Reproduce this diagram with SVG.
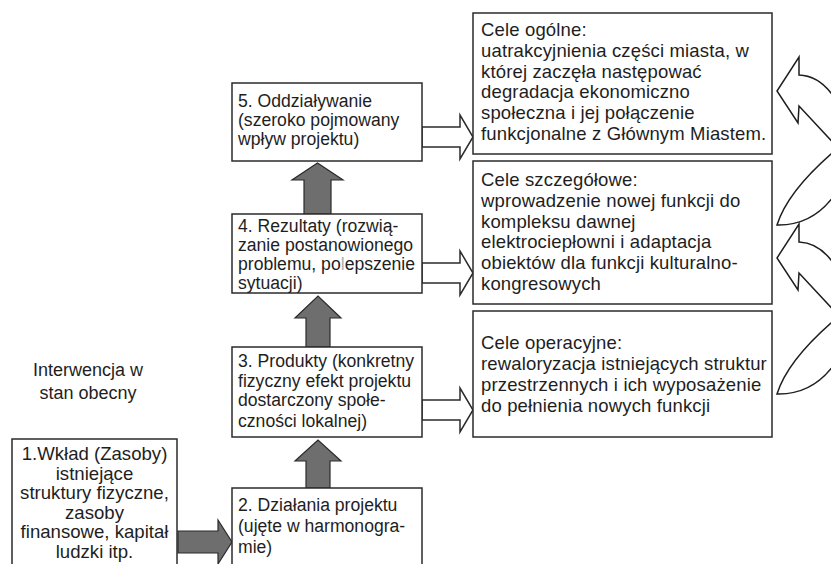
<svg xmlns="http://www.w3.org/2000/svg" width="831" height="564" viewBox="0 0 831 564">
<style>
.box{fill:#fff;stroke:#2b2b2b;stroke-width:1.5}
.t{font-family:"Liberation Sans",Arial,sans-serif;font-size:17.6px;fill:#1e1e1e}
.tr{font-size:18.5px;letter-spacing:0.15px}
.ti{font-size:18px}
.tb{font-size:18.6px;text-anchor:middle}
.gray{fill:#6e6e6e;stroke:#2b2b2b;stroke-width:1.2}
.hollow{fill:#fff;stroke:#2b2b2b;stroke-width:1.5}
.curve{fill:#fff;stroke:#1e1e1e;stroke-width:1.5;stroke-linejoin:miter}
</style>
<rect width="831" height="564" fill="#fff"/>

<g id="connectors">
  <polygon class="gray" points="304,214 304,180 292,180 317.5,163 343,180 331,180 331,214"/>
  <polygon class="gray" points="306,347 306,318 295,318 318,296 341,318 330,318 330,347"/>
  <polygon class="gray" points="306,488 306,461 295,461 318,440 341,461 330,461 330,488"/>
  <polygon class="gray" points="178,531 218,531 218,520 232,542 218,564 218,553 178,553"/>
  <polygon class="hollow" points="422,127 460,127 460,115 473,137 460,159 460,147 422,147"/>
  <polygon class="hollow" points="422,263 460,263 460,251 473,273 460,295 460,283 422,283"/>
  <polygon class="hollow" points="422,400 460,400 460,388 473,410 460,432 460,420 422,420"/>
  <path class="curve" d="M841,151 L799,106 L798,123 L777,91 L799,57 L799,75 Q826,76 842,112"/>
  <path class="curve" d="M838,148 Q788,190 777,225 Q815,226 838,190"/>
  <path class="curve" d="M841,318 L799,273 L798,290 L777,258 L799,224 L799,242 Q826,243 842,279"/>
  <path class="curve" d="M838,317 Q788,359 777,394 Q815,395 838,359"/>
</g>

<g id="n5">
  <rect class="box" x="232" y="83" width="190" height="78"/>
  <text class="t" x="238" y="107">5. Oddziaływanie</text>
  <text class="t" x="238" y="126">(szeroko pojmowany</text>
  <text class="t" x="238" y="145">wpływ projektu)</text>
</g>
<g id="n4">
  <rect class="box" x="232" y="214" width="190" height="79"/>
  <text class="t" x="238" y="232">4. Rezultaty (rozwią-</text>
  <text class="t" x="238" y="251">zanie postanowionego</text>
  <text class="t" x="238" y="270">problemu, po<tspan fill="#b0b0b0">l</tspan>epszenie</text>
  <text class="t" x="238" y="289">sytuacji)</text>
</g>
<g id="n3">
  <rect class="box" x="232" y="347" width="190" height="90"/>
  <text class="t" x="238" y="367">3. Produkty (konkretny</text>
  <text class="t" x="238" y="386.5">fizyczny efekt projektu</text>
  <text class="t" x="238" y="406">dostarczony społe-</text>
  <text class="t" x="238" y="427">czności  lokalnej)</text>
</g>
<g id="n2">
  <rect class="box" x="232" y="488" width="190" height="90"/>
  <text class="t" x="238" y="511">2. Działania projektu</text>
  <text class="t" x="238" y="532">(ujęte w harmonogra-</text>
  <text class="t" x="238" y="553">mie)</text>
</g>
<g id="n1">
  <rect class="box" x="12" y="439" width="165" height="140"/>
  <text class="t tb" x="94.5" y="460">1.Wkład (Zasoby)</text>
  <text class="t tb" x="94.5" y="479.5">istniejące</text>
  <text class="t tb" x="94.5" y="499">struktury fizyczne,</text>
  <text class="t tb" x="94.5" y="518.5">zasoby</text>
  <text class="t tb" x="94.5" y="538">finansowe, kapitał</text>
  <text class="t tb" x="94.5" y="557.5">ludzki itp.</text>
</g>
<g id="label-interwencja">
  <text class="t ti" x="88" y="376" text-anchor="middle">Interwencja w</text>
  <text class="t ti" x="88" y="399" text-anchor="middle">stan obecny</text>
</g>
<g id="cele-ogolne">
  <rect class="box" x="473" y="13" width="299" height="141"/>
  <text class="t tr" x="481" y="36">Cele ogólne:</text>
  <text class="t tr" x="481" y="56.8">uatrakcyjnienia części miasta, w</text>
  <text class="t tr" x="481" y="77.6">której zaczęła następować</text>
  <text class="t tr" x="481" y="98.4">degradacja ekonomiczno</text>
  <text class="t tr" x="481" y="119.2">społeczna i jej połączenie</text>
  <text class="t tr" x="481" y="140">funkcjonalne z Głównym Miastem.</text>
</g>
<g id="cele-szczegolowe">
  <rect class="box" x="473" y="161" width="299" height="143"/>
  <text class="t tr" x="481" y="186">Cele szczegółowe:</text>
  <text class="t tr" x="481" y="206.8">wprowadzenie nowej funkcji do</text>
  <text class="t tr" x="481" y="227.6">kompleksu dawnej</text>
  <text class="t tr" x="481" y="248.4">elektrociepłowni i adaptacja</text>
  <text class="t tr" x="481" y="269.2">obiektów dla funkcji kulturalno-</text>
  <text class="t tr" x="481" y="290">kongresowych</text>
</g>
<g id="cele-operacyjne">
  <rect class="box" x="473" y="311" width="299" height="126"/>
  <text class="t tr" x="481" y="349">Cele operacyjne:</text>
  <text class="t tr" x="481" y="370">rewaloryzacja istniejących struktur</text>
  <text class="t tr" x="481" y="391">przestrzennych i ich wyposażenie</text>
  <text class="t tr" x="481" y="412">do pełnienia nowych funkcji</text>
</g>
</svg>
